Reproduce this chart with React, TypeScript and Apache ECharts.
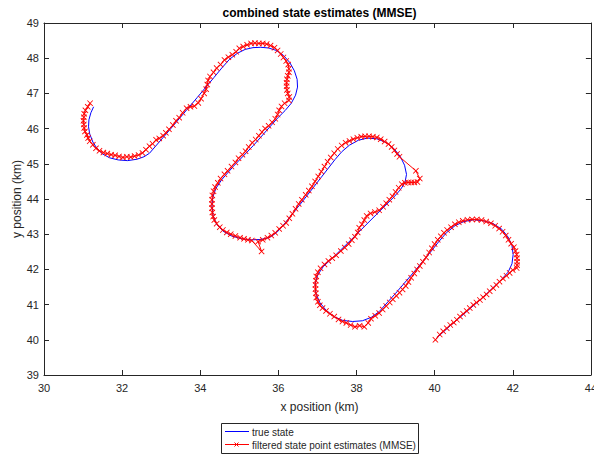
import React, { useEffect, useRef } from "react";
import * as echarts from "echarts";

// True target trajectory (km)
const trueState: [number, number][] = [
  [31.27, 46.62], [31.2, 46.45], [31.15, 46.25], [31.14, 46.05], [31.17, 45.85], [31.25, 45.62],
  [31.36, 45.43], [31.5, 45.28], [31.68, 45.17], [31.9, 45.11], [32.14, 45.09], [32.38, 45.13],
  [32.56, 45.2], [32.7, 45.3],
  [33.2, 45.94], [33.92, 46.88], [34.35, 47.45],
  [34.55, 47.72], [34.75, 47.97], [34.95, 48.14], [35.15, 48.25], [35.35, 48.3], [35.55, 48.31],
  [35.75, 48.29], [35.95, 48.22], [36.13, 48.08], [36.29, 47.88], [36.41, 47.64], [36.48, 47.4],
  [36.49, 47.18], [36.44, 46.95], [36.33, 46.72], [36.17, 46.51], [35.98, 46.3],
  [35.36, 45.52], [34.85, 44.93], [34.55, 44.55],
  [34.4, 44.3], [34.32, 44.05], [34.3, 43.8], [34.33, 43.52], [34.42, 43.28], [34.58, 43.09],
  [34.8, 42.95], [35.05, 42.87], [35.3, 42.84], [35.55, 42.85], [35.78, 42.91], [35.96, 43.05],
  [36.1, 43.22],
  [36.63, 43.95], [37.1, 44.62], [37.45, 45.12],
  [37.62, 45.34], [37.82, 45.53], [38.05, 45.67], [38.28, 45.73], [38.52, 45.71], [38.75, 45.61],
  [38.95, 45.44], [39.12, 45.21], [39.23, 44.96], [39.28, 44.7], [39.24, 44.46], [39.12, 44.26],
  [38.96, 44.06],
  [38.5, 43.55], [37.86, 42.84], [37.4, 42.34],
  [37.15, 42.08], [37.01, 41.85], [36.94, 41.6], [36.96, 41.32], [37.06, 41.06], [37.22, 40.84],
  [37.42, 40.66], [37.65, 40.55], [37.9, 40.52], [38.15, 40.54], [38.38, 40.64], [38.58, 40.8],
  [39.0, 41.32], [39.45, 41.9], [39.9, 42.5], [40.1, 42.78],
  [40.3, 43.04], [40.52, 43.24], [40.75, 43.36], [41.0, 43.41], [41.25, 43.38], [41.5, 43.3],
  [41.72, 43.14], [41.88, 42.92], [41.98, 42.68], [42.01, 42.42], [41.98, 42.16], [41.88, 41.92],
  [41.7, 41.7],
  [41.25, 41.22], [40.82, 40.8], [40.4, 40.4], [40.05, 40.05],
];

// Filtered state point estimates, MMSE (km)
const estimates: [number, number][] = [
  [31.18, 46.72], [31.12, 46.62], [31.06, 46.52], [31.03, 46.42], [31.02, 46.32], [31.01, 46.22],
  [31.02, 46.12], [31.03, 46.02], [31.05, 45.92], [31.1, 45.82], [31.13, 45.73], [31.17, 45.64],
  [31.25, 45.54], [31.33, 45.44], [31.42, 45.37], [31.52, 45.32], [31.62, 45.29], [31.72, 45.26],
  [31.82, 45.24], [31.92, 45.21], [32.02, 45.18], [32.12, 45.2], [32.22, 45.19], [32.32, 45.22],
  [32.42, 45.25], [32.52, 45.31], [32.61, 45.4], [32.7, 45.5], [32.78, 45.57], [32.87, 45.68],
  [32.95, 45.72], [33.05, 45.8], [33.12, 45.88], [33.2, 45.98], [33.3, 46.1], [33.38, 46.22],
  [33.46, 46.31], [33.55, 46.45], [33.65, 46.58], [33.75, 46.62], [33.85, 46.64], [33.95, 46.73],
  [34.02, 46.85], [34.1, 47.0], [34.15, 47.12], [34.18, 47.25], [34.2, 47.37], [34.25, 47.48],
  [34.34, 47.6], [34.42, 47.72], [34.52, 47.82], [34.62, 47.95], [34.72, 48.03], [34.82, 48.1],
  [34.92, 48.18], [35.0, 48.28], [35.1, 48.33], [35.2, 48.38], [35.3, 48.42], [35.4, 48.43],
  [35.5, 48.42], [35.6, 48.42], [35.7, 48.4], [35.8, 48.36], [35.9, 48.3], [35.98, 48.22],
  [36.06, 48.12], [36.13, 48.02], [36.2, 47.92], [36.25, 47.82], [36.27, 47.7], [36.27, 47.6],
  [36.24, 47.5], [36.22, 47.4], [36.21, 47.3], [36.21, 47.2], [36.22, 47.1], [36.24, 47.0],
  [36.28, 46.9], [36.27, 46.8], [36.16, 46.72], [36.08, 46.63], [36.02, 46.52], [35.98, 46.4],
  [35.92, 46.28], [35.84, 46.18], [35.75, 46.08], [35.66, 46.0], [35.58, 45.9], [35.5, 45.8],
  [35.42, 45.69], [35.33, 45.6], [35.24, 45.48], [35.16, 45.36], [35.08, 45.26], [34.98, 45.16],
  [34.9, 45.04], [34.8, 44.92], [34.7, 44.8], [34.62, 44.7], [34.52, 44.58], [34.45, 44.46],
  [34.38, 44.34], [34.34, 44.22], [34.31, 44.1], [34.3, 43.98], [34.3, 43.86], [34.3, 43.74],
  [34.31, 43.62], [34.33, 43.5], [34.36, 43.4], [34.42, 43.3], [34.5, 43.2], [34.58, 43.12],
  [34.68, 43.05], [34.78, 43.0], [34.9, 42.95], [35.02, 42.9], [35.12, 42.87], [35.22, 42.84],
  [35.32, 42.82], [35.57, 42.51], [35.48, 42.79], [35.6, 42.84], [35.72, 42.9], [35.82, 42.96],
  [35.92, 43.04], [36.02, 43.15], [36.12, 43.24], [36.2, 43.32], [36.28, 43.45], [36.36, 43.58],
  [36.44, 43.72], [36.52, 43.86], [36.6, 43.98], [36.7, 44.12], [36.78, 44.24], [36.86, 44.36],
  [36.94, 44.5], [37.02, 44.64], [37.1, 44.78], [37.18, 44.92], [37.26, 45.06], [37.34, 45.18],
  [37.43, 45.3], [37.52, 45.42], [37.62, 45.52], [37.72, 45.6], [37.82, 45.65], [37.92, 45.7],
  [38.02, 45.74], [38.12, 45.77], [38.22, 45.78], [38.32, 45.78], [38.42, 45.77], [38.52, 45.75],
  [38.62, 45.7], [38.72, 45.63], [38.82, 45.56], [38.9, 45.48], [38.97, 45.38], [39.04, 45.28],
  [39.1, 45.2], [39.52, 44.8], [39.62, 44.58], [39.56, 44.48], [39.48, 44.47], [39.4, 44.47],
  [39.32, 44.47], [39.24, 44.46], [39.16, 44.42], [39.08, 44.32], [39.0, 44.2], [38.92, 44.08],
  [38.84, 43.98], [38.76, 43.88], [38.68, 43.78], [38.58, 43.68], [38.47, 43.63], [38.36, 43.59],
  [38.26, 43.52], [38.2, 43.4], [38.14, 43.28], [38.07, 43.18], [38.03, 43.05], [37.96, 42.93],
  [37.88, 42.83], [37.8, 42.72], [37.7, 42.62], [37.6, 42.52], [37.48, 42.4], [37.38, 42.32],
  [37.28, 42.24], [37.18, 42.14], [37.08, 42.03], [37.01, 41.92], [36.97, 41.8], [36.96, 41.68],
  [36.95, 41.56], [36.95, 41.44], [36.96, 41.32], [36.97, 41.2], [37.01, 41.08], [37.06, 40.98],
  [37.13, 40.9], [37.22, 40.82], [37.32, 40.74], [37.43, 40.66], [37.54, 40.58], [37.64, 40.52],
  [37.74, 40.48], [37.85, 40.42], [37.96, 40.37], [38.08, 40.4], [38.2, 40.37], [38.3, 40.48],
  [38.37, 40.6], [38.48, 40.68], [38.58, 40.76], [38.67, 40.86], [38.76, 40.96], [38.85, 41.06],
  [38.93, 41.15], [39.02, 41.25], [39.1, 41.34], [39.18, 41.43], [39.26, 41.53], [39.33, 41.64],
  [39.4, 41.76], [39.48, 41.88], [39.55, 42.0], [39.62, 42.1], [39.7, 42.22], [39.78, 42.34],
  [39.86, 42.48], [39.93, 42.6], [40.0, 42.72], [40.08, 42.84], [40.16, 42.94], [40.24, 43.04],
  [40.32, 43.12], [40.42, 43.2], [40.52, 43.28], [40.62, 43.34], [40.72, 43.38], [40.84, 43.41],
  [40.96, 43.42], [41.08, 43.42], [41.2, 43.4], [41.32, 43.36], [41.44, 43.31], [41.55, 43.24],
  [41.65, 43.16], [41.74, 43.07], [41.82, 42.96], [41.89, 42.84], [41.96, 42.73], [42.03, 42.63],
  [42.07, 42.52], [42.1, 42.42], [42.11, 42.32], [42.11, 42.22], [42.11, 42.12], [42.1, 42.04],
  [42.0, 41.98], [41.92, 41.9], [41.84, 41.82], [41.75, 41.74], [41.66, 41.65], [41.58, 41.56],
  [41.5, 41.47], [41.41, 41.38], [41.33, 41.29], [41.24, 41.21], [41.16, 41.13], [41.07, 41.06],
  [40.99, 40.99], [40.9, 40.9], [40.82, 40.82], [40.73, 40.74], [40.65, 40.66], [40.57, 40.57],
  [40.49, 40.49], [40.4, 40.42], [40.31, 40.33], [40.22, 40.24], [40.13, 40.15], [40.02, 40.0],
];

const xRange = [30, 44];
const yRange = [39, 49];

const titleText = "combined state estimates (MMSE)";
const xName = "x position (km)";
const yName = "y position (km)";
const legendNames = ["true state", "filtered state point estimates (MMSE)"];

const FONT = "'Liberation Sans', Arial, sans-serif";
const AXIS = "#262626";
const CROSS = "path://M0,1L1,0L5,4L9,0L10,1L6,5L10,9L9,10L5,6L1,10L0,9L4,5Z";

export default function App() {
  const ref = useRef<HTMLDivElement>(null);

  useEffect(() => {
    if (!ref.current) return;
    const chart = echarts.init(ref.current, undefined, { renderer: "svg" });

    const axisCommon = {
      type: "value" as const,
      axisLine: { show: true, onZero: false, lineStyle: { color: AXIS, width: 1 } },
      axisTick: { show: true, inside: true, length: 5, lineStyle: { color: AXIS, width: 1 } },
      splitLine: { show: false },
    };
    const labelStyle = { fontSize: 11, color: AXIS, fontFamily: FONT };

    chart.setOption({
      animation: false,
      backgroundColor: "#fff",
      grid: { left: 44, top: 23, width: 551.5, height: 352, containLabel: false },
      xAxis: [
        { ...axisCommon, min: xRange[0], max: xRange[1], interval: 2, position: "bottom",
          axisLabel: { ...labelStyle, margin: 7 } },
        { ...axisCommon, min: xRange[0], max: xRange[1], interval: 2, position: "top",
          axisLabel: { show: false } },
      ],
      yAxis: [
        { ...axisCommon, min: yRange[0], max: yRange[1], interval: 1, position: "left",
          axisLabel: { ...labelStyle, margin: 5 } },
        { ...axisCommon, min: yRange[0], max: yRange[1], interval: 1, position: "right",
          axisLabel: { show: false } },
      ],
      series: [
        {
          name: legendNames[0],
          type: "line",
          data: trueState,
          showSymbol: false,
          symbol: "none",
          lineStyle: { color: "#0000ff", width: 1 },
          itemStyle: { color: "#0000ff" },
          z: 2,
        },
        {
          name: legendNames[1],
          type: "line",
          data: estimates,
          symbol: CROSS,
          symbolSize: 6,
          showAllSymbol: true,
          lineStyle: { color: "#ff0000", width: 1 },
          itemStyle: { color: "#ff0000" },
          z: 3,
        },
      ],
      graphic: [
        { type: "text", x: 319.5, y: 13, style: { text: titleText, textAlign: "center", textVerticalAlign: "middle",
          fontSize: 12, fontWeight: "bold", fontFamily: FONT, fill: "#000" } },
        { type: "text", x: 319.5, y: 407, style: { text: xName, textAlign: "center", textVerticalAlign: "middle",
          fontSize: 12, fontFamily: FONT, fill: AXIS } },
        { type: "text", x: 17, y: 199, rotation: Math.PI / 2, style: { text: yName, textAlign: "center",
          textVerticalAlign: "middle", fontSize: 12, fontFamily: FONT, fill: AXIS } },
        // legend box
        { type: "rect", shape: { x: 221.5, y: 423.5, width: 197, height: 30 },
          style: { fill: "#fff", stroke: AXIS, lineWidth: 1 } },
        { type: "line", shape: { x1: 225, y1: 431.5, x2: 249, y2: 431.5 }, style: { stroke: "#0000ff", lineWidth: 1 } },
        { type: "text", x: 252, y: 432, style: { text: legendNames[0], textVerticalAlign: "middle",
          fontSize: 10, fontFamily: FONT, fill: AXIS } },
        { type: "line", shape: { x1: 225, y1: 444.5, x2: 249, y2: 444.5 }, style: { stroke: "#ff0000", lineWidth: 1 } },
        { type: "line", shape: { x1: 234.5, y1: 442.5, x2: 238.5, y2: 446.5 }, style: { stroke: "#ff0000", lineWidth: 1 } },
        { type: "line", shape: { x1: 234.5, y1: 446.5, x2: 238.5, y2: 442.5 }, style: { stroke: "#ff0000", lineWidth: 1 } },
        { type: "text", x: 252, y: 445, style: { text: legendNames[1], textVerticalAlign: "middle",
          fontSize: 10, fontFamily: FONT, fill: AXIS } },
      ],
    });

    return () => chart.dispose();
  }, []);

  return (
    <div style={{ position: "fixed", left: 0, top: 0, width: 594, height: 454, overflow: "hidden", background: "#fff" }}>
      <div ref={ref} style={{ width: 600, height: 454 }} />
    </div>
  );
}
